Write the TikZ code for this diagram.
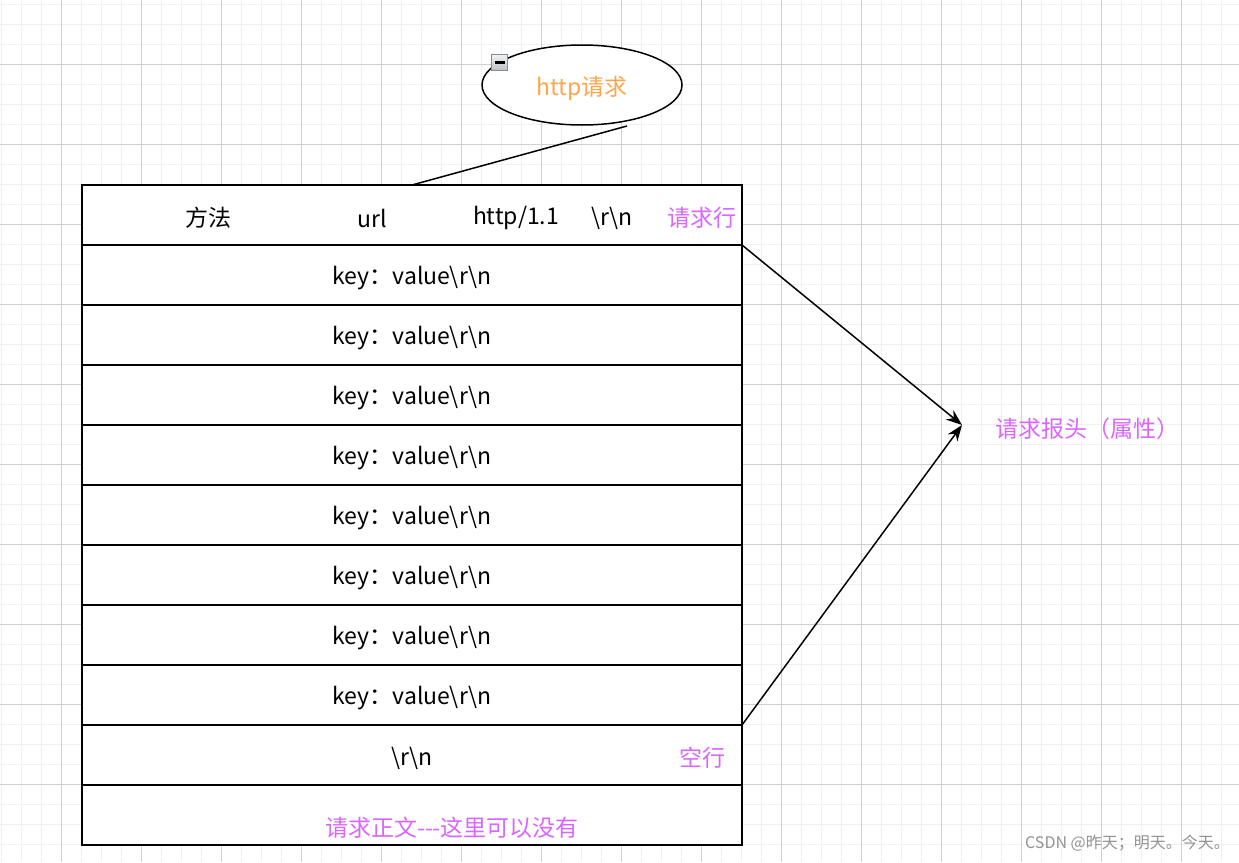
\documentclass[tikz,border=0pt]{standalone}
\usepackage{fontspec}
\setmainfont{Noto Sans CJK SC}
\usetikzlibrary{positioning,shapes.geometric,arrows.meta}
\definecolor{gridminor}{RGB}{240,240,240}
\definecolor{gridmajor}{RGB}{208,208,208}
\definecolor{reqorange}{RGB}{255,166,77}
\definecolor{reqpurple}{RGB}{217,102,255}
\definecolor{boxgray}{RGB}{130,140,155}

\begin{document}
\begin{tikzpicture}[x=1pt,y=-1pt,
    txt/.style={font=\fontsize{23}{27}\selectfont,inner sep=0pt,yshift=-3pt},
    note/.style={txt,text=reqpurple},
    rowbox/.style={draw,line width=1.5pt,fill=white,minimum width=660pt,minimum height=60pt,inner sep=0pt,outer sep=0pt},
    link/.style={line width=1.5pt,-{Stealth[length=16pt,width=12pt]}}]
      % background and grid
      \fill[white] (0,0) rectangle (1239,862);
      \useasboundingbox (0,0) rectangle (1239,862);
      \foreach \x in {1,21,...,1239} \draw[gridminor,line width=1pt] (\x,0) -- (\x,862);
      \foreach \y in {4,24,...,862} \draw[gridminor,line width=1pt] (0,\y) -- (1239,\y);
      \foreach \x in {61,141,...,1239} \draw[gridmajor,line width=1pt] (\x,0) -- (\x,862);
      \foreach \y in {64,144,...,862} \draw[gridmajor,line width=1pt] (0,\y) -- (1239,\y);

      % request
      \node[ellipse,draw,line width=1.5pt,fill=white,minimum width=200pt,minimum height=80pt](http) at (582,85){};
      \node[txt,text=reqorange](httptxt) at (http.center){http请求};
      \node[draw=boxgray,line width=1pt,top color=gray!10,bottom color=gray!50,minimum size=16pt,inner sep=0pt](fold) at (499.5,62.5){};
      \draw[line width=2.2pt] ([xshift=-5pt]fold.center) -- ([xshift=5pt]fold.center);

      % rows
      \node[rowbox](row1) at (412,215){};
      \foreach \i [count=\j from 1] in {2,...,11}
        \node[rowbox,below=0pt of row\j](row\i){};
      \foreach \i in {2,...,9}
        \node[txt](kv\i) at (row\i.center){key：value\textbackslash r\textbackslash n};

      \node[txt](meth) at (208,215){方法};
      \node[txt](url) at (372,215){url};
      \node[txt](ver) at (516,215){http/1.1};
      \node[txt](crlf) at (612,215){\textbackslash r\textbackslash n};
      \node[note](reqline) at (702,215){请求行};
      \node[txt](crlf2) at (row10.center){\textbackslash r\textbackslash n};
      \node[note](blank) at (702,755){空行};
      \node[note](body) at (452,825){请求正文-{}-{}-这里可以没有};

      \draw[line width=1.5pt] ([shift={(45,41)}]http.center) -- (row1.north);

      % headers
      \coordinate (tip) at (962,425);
      \node[note,anchor=west](hdr) at (995,426){请求报头（属性）};
      \draw[link] (row1.south east) -- (tip);
      \draw[link] (row9.south east) -- (tip);

      \node[font=\fontsize{16}{18}\selectfont,text=gray!85,anchor=east,inner sep=0pt](mark) at (1230,843){CSDN @昨天；明天。今天。};
    \end{tikzpicture}
\end{document}
